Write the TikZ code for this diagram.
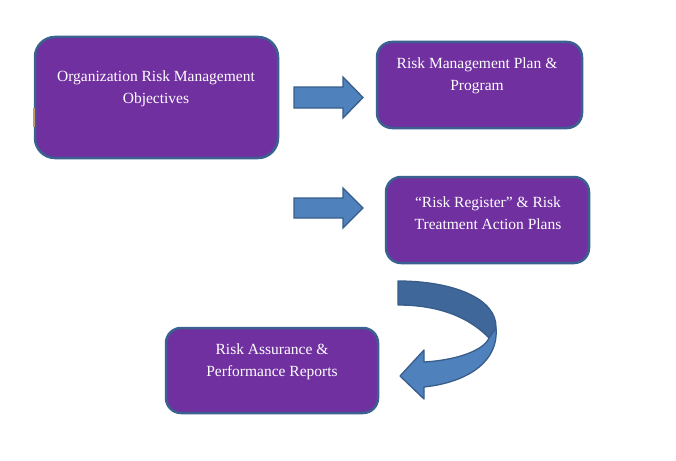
\documentclass[tikz,border=0pt]{standalone}
\usepackage{fontspec}
\setmainfont{Liberation Serif}
\definecolor{boxfill}{HTML}{7030A0}
\definecolor{boxline}{HTML}{3A6190}
\definecolor{arrfill}{HTML}{4F81BD}
\definecolor{arrline}{HTML}{385D8A}
\definecolor{arrdark}{HTML}{3F679A}
\definecolor{tanmark}{HTML}{C09A6B}
\tikzset{
  purplebox/.style={draw=boxline, fill=boxfill, line width=2.5pt},
  boxtext/.style={text=white, align=center, inner sep=0pt, font=\fontsize{15.5}{21.5}\selectfont},
  blockarrow/.style={draw=arrline, fill=arrfill, line width=1.3pt, line join=miter},
  darkband/.style={draw=arrline, fill=arrdark, line width=1.3pt, line join=round}
}
\begin{document}
\begin{tikzpicture}[x=1pt,y=-1pt]
\useasboundingbox (0,0) rectangle (676,460);
% boxes
\draw[purplebox, rounded corners=20pt] (35,37) rectangle (278,158);
\fill[tanmark] (32.8,108) rectangle (35.3,127);
\draw[purplebox, rounded corners=15pt] (377,42) rectangle (582,128);
\draw[purplebox, rounded corners=15pt] (386,177) rectangle (589,263);
\draw[purplebox, rounded corners=15pt] (166,328) rectangle (378,413);
% texts
\node[boxtext] (t1) at (156,89) {Organization Risk Management\\Objectives};
\node[boxtext] (t2) at (477,76) {Risk Management Plan \&\\Program};
\node[boxtext] (t3) at (488,213) {“Risk Register” \& Risk\\Treatment Action Plans};
\node[boxtext] (t4) at (272,362) {Risk Assurance \&\\Performance Reports};
% straight block arrows
\draw[blockarrow] (294,87) -- (343,87) -- (343,77) -- (363,97.5) -- (343,118) -- (343,108) -- (294,108) -- cycle;
\draw[blockarrow] (294,198) -- (343,198) -- (343,188) -- (363,208) -- (343,228) -- (343,218) -- (294,218) -- cycle;
% curved arrow: back band
\draw[darkband] (398,281) .. controls (452,281) and (497,298) .. (496,328)
  -- (489,338) .. controls (470,318) and (440,305) .. (398,305) -- cycle;
% curved arrow: front face with head
\draw[blockarrow, line join=round] (496,328) .. controls (499,360) and (470,382) .. (424,387)
  -- (424,399) -- (400,376) -- (424,350) -- (424,362)
  .. controls (458,360) and (484,350) .. (489,338) -- cycle;
\end{tikzpicture}
\end{document}
